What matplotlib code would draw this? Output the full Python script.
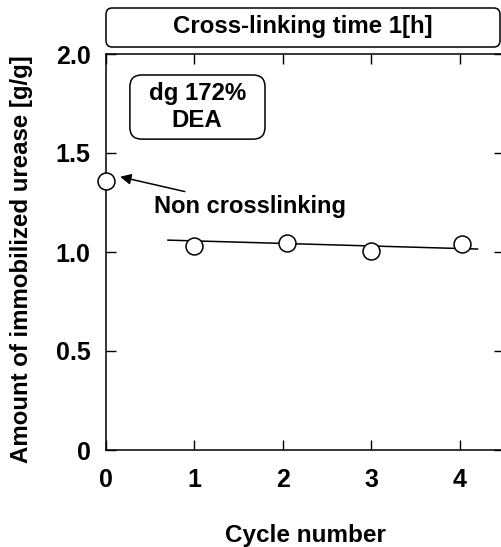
import matplotlib
matplotlib.use("Agg")
import matplotlib.pyplot as plt
from matplotlib.patches import FancyBboxPatch

# | Data |
cycles = [0.0, 1.0, 2.05, 3.0, 4.03]
amount = [1.36, 1.03, 1.045, 1.005, 1.04]
trend_x = [0.7, 4.2]
trend_y = [1.06, 1.015]
x_ticks = [0, 1, 2, 3, 4]
y_ticks = [0, 0.5, 1.0, 1.5, 2.0]
y_tick_labels = ["0", "0.5", "1.0", "1.5", "2.0"]

plt.rcParams["font.family"] = ["Liberation Sans", "DejaVu Sans"]
plt.rcParams["font.weight"] = "bold"

W, H = 502, 547
fig = plt.figure(figsize=(W / 100, H / 100), dpi=100)
ax = fig.add_axes([106 / W, 1 - 450 / H, 398 / W, 396 / H])

ax.plot(trend_x, trend_y, color="black", lw=1.1, zorder=2)
ax.plot(cycles, amount, linestyle="none", marker="o", ms=12.2,
        mfc="white", mec="black", mew=1.1, clip_on=False, zorder=3)

ax.set_xlim(0, 4.5)
ax.set_ylim(0, 2.0)
ax.set_xticks(x_ticks)
ax.set_yticks(y_ticks)
ax.set_yticklabels(y_tick_labels)
ax.tick_params(direction="in", length=7, width=1, labelsize=18,
               top=True, right=True)
ax.tick_params(axis="x", pad=13)
ax.tick_params(axis="y", pad=11)
for sp in ax.spines.values():
    sp.set_linewidth(1.1)

ax.set_xlabel("Cycle number", fontsize=17.5, fontweight="bold", labelpad=23)
ax.set_ylabel("Amount of immobilized urease [g/g]", fontsize=17.3,
              fontweight="bold")
ax.yaxis.set_label_coords(-73 / 398, 0.482)

ax.annotate("Non crosslinking", xy=(0.16, 1.38), xytext=(0.54, 1.23),
            fontsize=17, fontweight="bold", va="center", ha="left",
            arrowprops=dict(arrowstyle="-|>", color="black", lw=1.1,
                            mutation_scale=16, shrinkA=2, shrinkB=0))

# inner label box
ax.add_patch(FancyBboxPatch((0.060, 0.785), 0.3395, 0.162,
                            boxstyle="round,pad=0,rounding_size=0.03",
                            transform=ax.transAxes, fc="white", ec="black",
                            lw=1.1, zorder=4))
ax.text(0.229, 0.866, "dg 172%\nDEA", transform=ax.transAxes, ha="center",
        va="center", fontsize=17.3, fontweight="bold", linespacing=1.25,
        zorder=5)

# title box
fig.patches.append(FancyBboxPatch((106 / W, 1 - 47 / H), 394 / W, 39 / H,
                                  boxstyle="round,pad=0,rounding_size=0.012",
                                  transform=fig.transFigure, fc="white",
                                  ec="black", lw=1.1))
fig.text(303 / W, 1 - 27 / H, "Cross-linking time 1[h]", ha="center",
         va="center", fontsize=17.3, fontweight="bold")

fig.savefig("out.png", dpi=100)
